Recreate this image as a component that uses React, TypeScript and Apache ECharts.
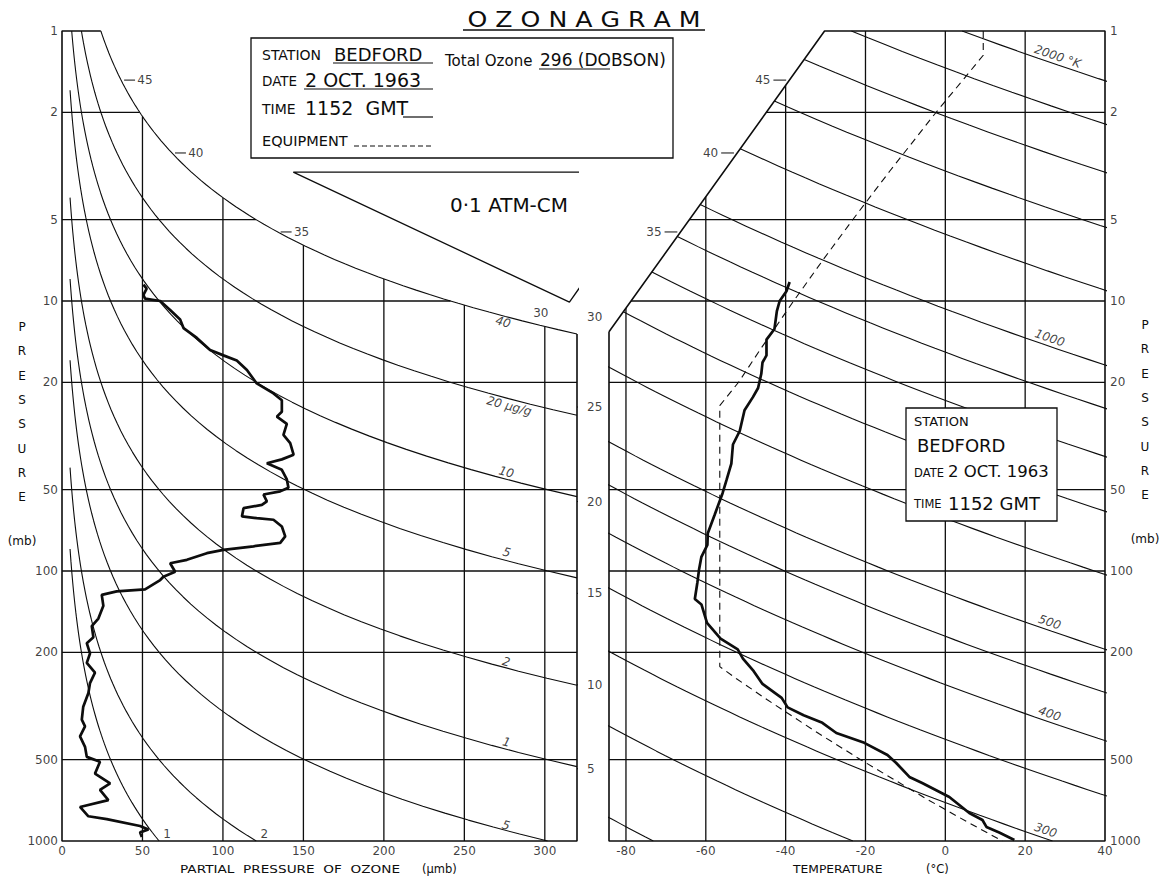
import React, { useEffect, useRef } from "react";
import * as echarts from "echarts";

const FONT = "DejaVu Sans";
const INK = "#0d0d0d";

// ---------------- axes ----------------
const pressureTicks = [1, 2, 5, 10, 20, 50, 100, 200, 500, 1000];
const innerPressureLines = [2, 5, 10, 20, 50, 100, 200, 500];
const ozoneTicks = [0, 50, 100, 150, 200, 250, 300];
const ozoneGridLines = [50, 100, 150, 200, 250, 300];
const tempTicks = [-80, -60, -40, -20, 0, 20, 40];
const tempGridLines = [-80, -60, -40, -20, 0, 20];

// ---------------- reference curves ----------------
const mixingRatios = [0.1, 0.2, 0.5, 1, 2, 5, 10, 20, 40]; // µg/g
const mixingLabelTexts = ["1", "2", "5", "1", "2", "5", "10", "20 µg/g", "40"];
const thetaLines = [200, 250, 300, 350, 400, 450, 500, 600, 700, 800, 900, 1000, 1200, 1400, 1600, 1800, 2000]; // K
const thetaLabelValues = [2000, 1000, 500, 400, 300];
const thetaLabelTexts = ["2000 °K", "1000", "500", "400", "300"];
const thetaLabelTemps = [27.5, 25.5, 25.5, 25.5, 24.5];

// altitude (km) scale
const altitudeKm = [5, 10, 15, 20, 25, 30];
const altitudePressure = [540, 264, 121, 55.3, 24.7, 11.5];
const boundaryKm = [45, 40, 35];
const boundaryPressure = [1.52, 2.83, 5.55];
const topKm = 30;
const topKmPressure = 11.5;

// 0.1 atm-cm reference triangle (ozone µmb, pressure mb)
const triangleOzone = [143.7, 371.9, 315.3, 143.7];
const trianglePressure = [3.33, 3.33, 10.1, 3.33];

// ---------------- ozone sounding ----------------
const ozonePartial = [
  50.6, 52.6, 50.6, 51.6, 61, 67.2, 73.4, 75.5, 83.8, 92, 100.3, 108.6, 114.9, 121, 131.4, 136.6,
  136.6, 133.5, 139.7, 137.6, 141.8, 143.9, 136.6, 127.3, 136.6, 139.7, 140.7, 135.6, 125.2, 127.3,
  124.2, 112.8, 111.8, 121, 131.4, 136.6, 138.7, 135.6, 119, 100.3, 90, 77.6, 67.2, 70.3, 63, 61,
  51.6, 34, 24.7, 25.7, 22.6, 18.5, 19.5, 15.4, 17.4, 15.4, 20.5, 17.4, 16.4, 13.2, 12.3, 14.3, 11.2,
  14.3, 15.4, 23.6, 20.5, 29.9, 23.6, 28.8, 11.2, 16.4, 27.8, 48.5, 53.7, 48.5, 49.6,
];
const ozonePressure = [
  8.7, 9.0, 9.5, 9.8, 10.0, 10.8, 11.7, 12.6, 13.7, 15.2, 15.9, 16.6, 18.0, 20.2, 22.0, 23.3,
  25.7, 26.8, 28.5, 31.3, 33.6, 37.1, 38.6, 39.9, 42.2, 45.8, 49.2, 50.7, 52.1, 55.2,
  56.9, 58.5, 62.8, 63.7, 64.6, 68.4, 74.4, 78.7, 81.0, 83.5, 85.9, 90.9, 93.6, 100.6, 105, 108,
  117, 119, 122.6, 134.6, 150, 160, 176, 185, 202, 219, 238, 260, 283, 318, 355, 376, 410,
  448, 488, 509, 563, 612, 647, 706, 748, 810, 830, 880, 906, 929, 966,
];

// ---------------- temperature sounding ----------------
const tempC = [
  -39, -39.8, -41.5, -42.2, -42.8, -44.8, -44.8, -45.8, -46.1, -46.9, -48.2, -50.3, -51.5, -53.2,
  -53.6, -54.8, -55.8, -57.8, -59.5, -59.6, -61.1, -61.7, -62.1, -62.75, -61.1, -59.7, -56.3, -52,
  -50.7, -48, -45.8, -41, -39.5, -35.5, -30.8, -27.3, -20.3, -14.5, -12.3, -9, -5.8, 1, 6, 9.3, 10.3,
  13.5, 17.3,
];
const tempPressure = [
  8.5, 9.2, 10, 10.9, 12.7, 13.9, 15.9, 16.9, 18.6, 21, 22.7, 25.4, 30.3, 34,
  40, 46, 51.5, 62, 72.5, 80, 88.6, 99, 110, 127, 133, 155.6, 178, 195,
  211, 235, 262, 295, 320, 342, 365, 398, 433, 480, 514, 579, 610, 687, 788, 836, 887,
  930, 991,
];

// ---------------- standard atmosphere (dashed) ----------------
const stdTempC = [9.5, 9.5, 4.7, -2.3, -13.9, -23.2, -30.5, -38.0, -46.2, -51.8, -56.5, -56.5, -52.4, -44.6, -31.7, -21.2, -4.6, 5.5, 14.3];
const stdPressure = [1, 1.23, 1.5, 2, 3.3, 5, 7, 10, 15, 20, 24.4, 226, 250, 300, 400, 500, 700, 850, 1000];

// ---------------- physical constants / frame ----------------
const K = 1.657; // molecular weight ratio O3/air
const KAPPA = 0.286;
const MIX_START = 5; // µmb where mixing lines begin
const P_MIN = 1;
const P_MAX = 1000;
const OZ_MAX = 320;
const T_MIN = -84.25;
const T_MAX = 40;
const DIAG_TOP_T = -30.25; // boundary of temperature panel at 1 mb
const DIAG_BOT_P = 13; // boundary reaches left edge at this pressure

// ---------------- layout ----------------
const GL = { left: 62, top: 31, width: 515, height: 810 };
const GR = { left: 609, top: 31, width: 496, height: 810 };
const pxPerP = GL.width / OZ_MAX;
const pxPerT = GR.width / (T_MAX - T_MIN);
const pxPerDecade = GL.height / 3;
const mixingLabelDy = [-7, -7, -5, -7, -6, -8, -7, 7, 6];

const logspace = (a: number, b: number, n: number) => {
  const la = Math.log10(a);
  const lb = Math.log10(b);
  return Array.from({ length: n }, (_, i) => Math.pow(10, la + ((lb - la) * i) / (n - 1)));
};
const diagT = (P: number) => DIAG_TOP_T + ((T_MIN - DIAG_TOP_T) * Math.log10(P)) / Math.log10(DIAG_BOT_P);
const diagP = (T: number) => Math.pow(10, ((T - DIAG_TOP_T) / (T_MIN - DIAG_TOP_T)) * Math.log10(DIAG_BOT_P));
const thetaT = (th: number, P: number) => th * Math.pow(P / 1000, KAPPA) - 273.15;
const deg = (r: number) => (r * 180) / Math.PI;

function line(g: number, data: number[][], width = 1, type: any = "solid", clip = true, z = 2) {
  return {
    type: "line",
    xAxisIndex: g,
    yAxisIndex: g,
    data,
    symbol: "none",
    showSymbol: false,
    silent: true,
    clip,
    z,
    lineStyle: { color: INK, width, type },
    animation: false,
  };
}

type Lab = { v: number[]; t: string; pos?: string; d?: number; rot?: number; off?: number[]; fs?: number; it?: boolean };
function labels(g: number, items: Lab[]) {
  return {
    type: "scatter",
    xAxisIndex: g,
    yAxisIndex: g,
    symbolSize: 0,
    silent: true,
    clip: false,
    z: 6,
    animation: false,
    data: items.map((it) => ({
      value: it.v,
      label: {
        show: true,
        formatter: it.t,
        position: it.pos ?? "inside",
        distance: it.d ?? 5,
        rotate: it.rot ?? 0,
        offset: it.off ?? [0, 0],
        fontSize: it.fs ?? 12,
        fontStyle: it.it ? "italic" : "normal",
        fontFamily: FONT,
        color: INK,
      },
    })),
  };
}

function txt(x: number, y: number, text: string, fs: number, o: any = {}) {
  const align = o.align ?? "left";
  return {
    type: "text",
    x,
    y,
    z: 101,
    scaleX: o.sx ?? 1,
    style: {
      text,
      fontSize: fs,
      fontFamily: o.ff ?? FONT,
      fontWeight: o.fw ?? "normal",
      fill: INK,
      textAlign: align,
      align,
      textVerticalAlign: o.va ?? "middle",
      verticalAlign: o.va ?? "middle",
      lineHeight: o.lh,
    },
  };
}
function gline(x1: number, y1: number, x2: number, y2: number, w = 1, dash?: number[]) {
  return { type: "line", z: 101, shape: { x1, y1, x2, y2 }, style: { stroke: INK, lineWidth: w, lineDash: dash } };
}
function grect(x: number, y: number, w: number, h: number) {
  return { type: "rect", z: 100, shape: { x, y, width: w, height: h }, style: { fill: "#fff", stroke: INK, lineWidth: 1.3 } };
}

function buildOption() {
  const series: any[] = [];

  // ---------- left panel ----------
  const r40End = (OZ_MAX * K) / 40;
  ozoneGridLines.forEach((p) => series.push(line(0, [[p, Math.max(P_MIN, (p * K) / 40)], [p, P_MAX]], 1.3)));
  innerPressureLines.forEach((P) => series.push(line(0, [[0, P], [Math.min(OZ_MAX, (40 * P) / K), P]], 1.3)));
  mixingRatios.forEach((r) => {
    const a = Math.max(P_MIN, (MIX_START * K) / r);
    const b = Math.min(P_MAX, (OZ_MAX * K) / r);
    series.push(line(0, logspace(a, b, 70).map((P) => [(r * P) / K, P]), 1.1));
  });
  // frame
  series.push(line(0, [[OZ_MAX, r40End], [OZ_MAX, P_MAX], [0, P_MAX], [0, P_MIN], [40 / K, P_MIN]], 1.6, "solid", false, 3));
  // triangle
  series.push(line(0, triangleOzone.map((p, i) => [p, trianglePressure[i]]), 1.3, "solid", false, 3));
  // ozone profile
  series.push(line(0, ozonePartial.map((p, i) => [p, ozonePressure[i]]), 2.7, "solid", true, 5));

  // altitude ticks in middle
  altitudePressure.forEach((P, i) => {
    if (altitudeKm[i] !== 30) series.push(line(0, [[OZ_MAX, P], [OZ_MAX + 4.5, P]], 1, "solid", false, 3));
  });
  // boundary altitude dashes (left)
  boundaryPressure.forEach((P) => {
    const p0 = (40 * P) / K;
    series.push(line(0, [[p0 + 1.9, P], [p0 + 8.7, P]], 1, "solid", false, 3));
  });

  const leftLabels: Lab[] = [];
  pressureTicks.forEach((P) => leftLabels.push({ v: [0, P], t: String(P), pos: "left", d: 4 }));
  ozoneTicks.forEach((p) => leftLabels.push({ v: [p, P_MAX], t: String(p), pos: "bottom", d: 4 }));
  altitudePressure.forEach((P, i) => leftLabels.push({ v: [OZ_MAX, P], t: String(altitudeKm[i]), pos: "right", d: 10 }));
  boundaryPressure.forEach((P, i) => leftLabels.push({ v: [(40 * P) / K + 9.5, P], t: String(boundaryKm[i]), pos: "right", d: 1 }));
  leftLabels.push({ v: [(40 * topKmPressure) / K, topKmPressure], t: String(topKm), off: [32, -4] });
  mixingRatios.forEach((r, i) => {
    const pBottom = (r * P_MAX) / K;
    if (pBottom < OZ_MAX - 40) {
      leftLabels.push({ v: [pBottom, P_MAX], t: mixingLabelTexts[i], off: [8, -7] });
    } else {
      const p = i === 7 ? 279 : 275;
      const P = (K * p) / r;
      const s = pxPerDecade / (Math.LN10 * p * pxPerP);
      leftLabels.push({ v: [p, P], t: mixingLabelTexts[i], rot: -deg(Math.atan(s)), off: [0, mixingLabelDy[i]], it: true, fs: 12 });
    }
  });
  series.push(labels(0, leftLabels));

  // ---------- right panel ----------
  tempGridLines.forEach((T) => series.push(line(1, [[T, T >= DIAG_TOP_T ? P_MIN : diagP(T)], [T, P_MAX]], 1.3)));
  innerPressureLines.forEach((P) => series.push(line(1, [[Math.max(T_MIN, diagT(P)), P], [T_MAX, P]], 1.3)));
  thetaLines.forEach((th) => {
    const f = (P: number) => thetaT(th, P) - diagT(P);
    let start: number;
    if (f(P_MIN) >= 0) start = P_MIN;
    else if (f(DIAG_BOT_P) <= 0) start = DIAG_BOT_P;
    else {
      let lo = 0;
      let hi = Math.log10(DIAG_BOT_P);
      for (let k = 0; k < 50; k++) {
        const mid = (lo + hi) / 2;
        if (f(Math.pow(10, mid)) < 0) lo = mid;
        else hi = mid;
      }
      start = Math.pow(10, hi);
    }
    series.push(line(1, logspace(start, P_MAX, 120).map((P) => [thetaT(th, P), P]), 1.1));
  });
  series.push(line(1, stdTempC.map((T, i) => [T, stdPressure[i]]), 1.1, [7, 5], true, 4));
  series.push(line(1, [[T_MIN, DIAG_BOT_P], [T_MIN, P_MAX], [T_MAX, P_MAX], [T_MAX, P_MIN], [DIAG_TOP_T, P_MIN], [T_MIN, DIAG_BOT_P]], 1.6, "solid", false, 3));
  series.push(line(1, tempC.map((T, i) => [T, tempPressure[i]]), 2.7, "solid", true, 5));
  boundaryPressure.forEach((P) => {
    const t0 = diagT(P);
    series.push(line(1, [[t0 - 4, P], [t0 - 0.8, P]], 1, "solid", false, 3));
  });

  const rightLabels: Lab[] = [];
  pressureTicks.forEach((P) => rightLabels.push({ v: [T_MAX, P], t: String(P), pos: "right", d: 5 }));
  tempTicks.forEach((T) => rightLabels.push({ v: [T, P_MAX], t: String(T), pos: "bottom", d: 4 }));
  boundaryPressure.forEach((P, i) => rightLabels.push({ v: [diagT(P) - 4.5, P], t: String(boundaryKm[i]), pos: "left", d: 1 }));
  thetaLabelValues.forEach((th, i) => {
    const T = thetaLabelTemps[i];
    const P = 1000 * Math.pow((T + 273.15) / th, 1 / KAPPA);
    const s = pxPerDecade / (Math.LN10 * pxPerT * KAPPA * (T + 273.15));
    rightLabels.push({ v: [T, P], t: thetaLabelTexts[i], rot: -deg(Math.atan(s)), off: [0, -8], it: true, fs: 12 });
  });
  series.push(labels(1, rightLabels));

  const graphic: any[] = [
    // title
    txt(584, 19, "O Z O N A G R A M", 21, { align: "center", sx: 1.2 }),
    gline(463, 30, 705, 30, 1.4),
    // station box
    grect(251, 38, 422, 120),
    txt(262, 55, "STATION", 14),
    txt(334, 54, "BEDFORD", 18),
    gline(333, 63, 433, 63, 1.2),
    txt(445, 61, "Total Ozone", 15),
    txt(540, 60, "296 (DOBSON)", 17),
    gline(539, 69, 610, 69, 1.2),
    txt(262, 81, "DATE", 13.5),
    txt(305, 80, "2 OCT. 1963", 19),
    gline(304, 89, 433, 89, 1.2),
    txt(262, 109, "TIME", 14),
    txt(305, 108, "1152  GMT", 19),
    gline(403, 117, 433, 117, 1.2),
    txt(262, 141, "EQUIPMENT", 14.5),
    gline(354, 146, 433, 146, 1, [5, 3]),
    // triangle text
    txt(509, 206, "0·1 ATM-CM", 19, { align: "center", sx: 1.05 }),
    // second box
    grect(906, 408, 151, 113),
    txt(914, 421, "STATION", 13),
    txt(917, 445, "BEDFORD", 18),
    txt(914, 473, "DATE", 11.5),
    txt(948, 471, "2 OCT. 1963", 16.5),
    txt(914, 504, "TIME", 11.5),
    txt(948, 503, "1152 GMT", 18),
    // axis titles
    txt(22, 315, "P\nR\nE\nS\nS\nU\nR\nE", 12, { align: "center", va: "top", lh: 24.3 }),
    txt(22, 541, "(mb)", 12, { align: "center" }),
    txt(1145, 313, "P\nR\nE\nS\nS\nU\nR\nE", 12, { align: "center", va: "top", lh: 24.3 }),
    txt(1145, 539, "(mb)", 12, { align: "center" }),
    txt(180, 869, "PARTIAL  PRESSURE  OF  OZONE", 11, { sx: 1.24 }),
    txt(422, 869, "(µmb)", 11.5),
    txt(793, 869, "TEMPERATURE", 11, { sx: 1.12 }),
    txt(926, 869, "(°C)", 11.5),
  ];

  return {
    animation: false,
    backgroundColor: "#ffffff",
    textStyle: { fontFamily: FONT },
    grid: [
      { ...GL, containLabel: false },
      { ...GR, containLabel: false },
    ],
    xAxis: [
      { type: "value", gridIndex: 0, min: 0, max: OZ_MAX, show: false },
      { type: "value", gridIndex: 1, min: T_MIN, max: T_MAX, show: false },
    ],
    yAxis: [
      { type: "log", gridIndex: 0, min: P_MIN, max: P_MAX, logBase: 10, inverse: true, show: false },
      { type: "log", gridIndex: 1, min: P_MIN, max: P_MAX, logBase: 10, inverse: true, show: false },
    ],
    series,
    graphic,
  };
}

export default function App() {
  const ref = useRef<HTMLDivElement>(null);
  useEffect(() => {
    const chart = echarts.init(ref.current as HTMLDivElement, null, { renderer: "svg" });
    chart.setOption(buildOption() as any);
    return () => chart.dispose();
  }, []);
  return (
    <div
      ref={ref}
      style={{ position: "fixed", left: 0, top: 0, width: 1162, height: 878, background: "#fff" }}
    />
  );
}
